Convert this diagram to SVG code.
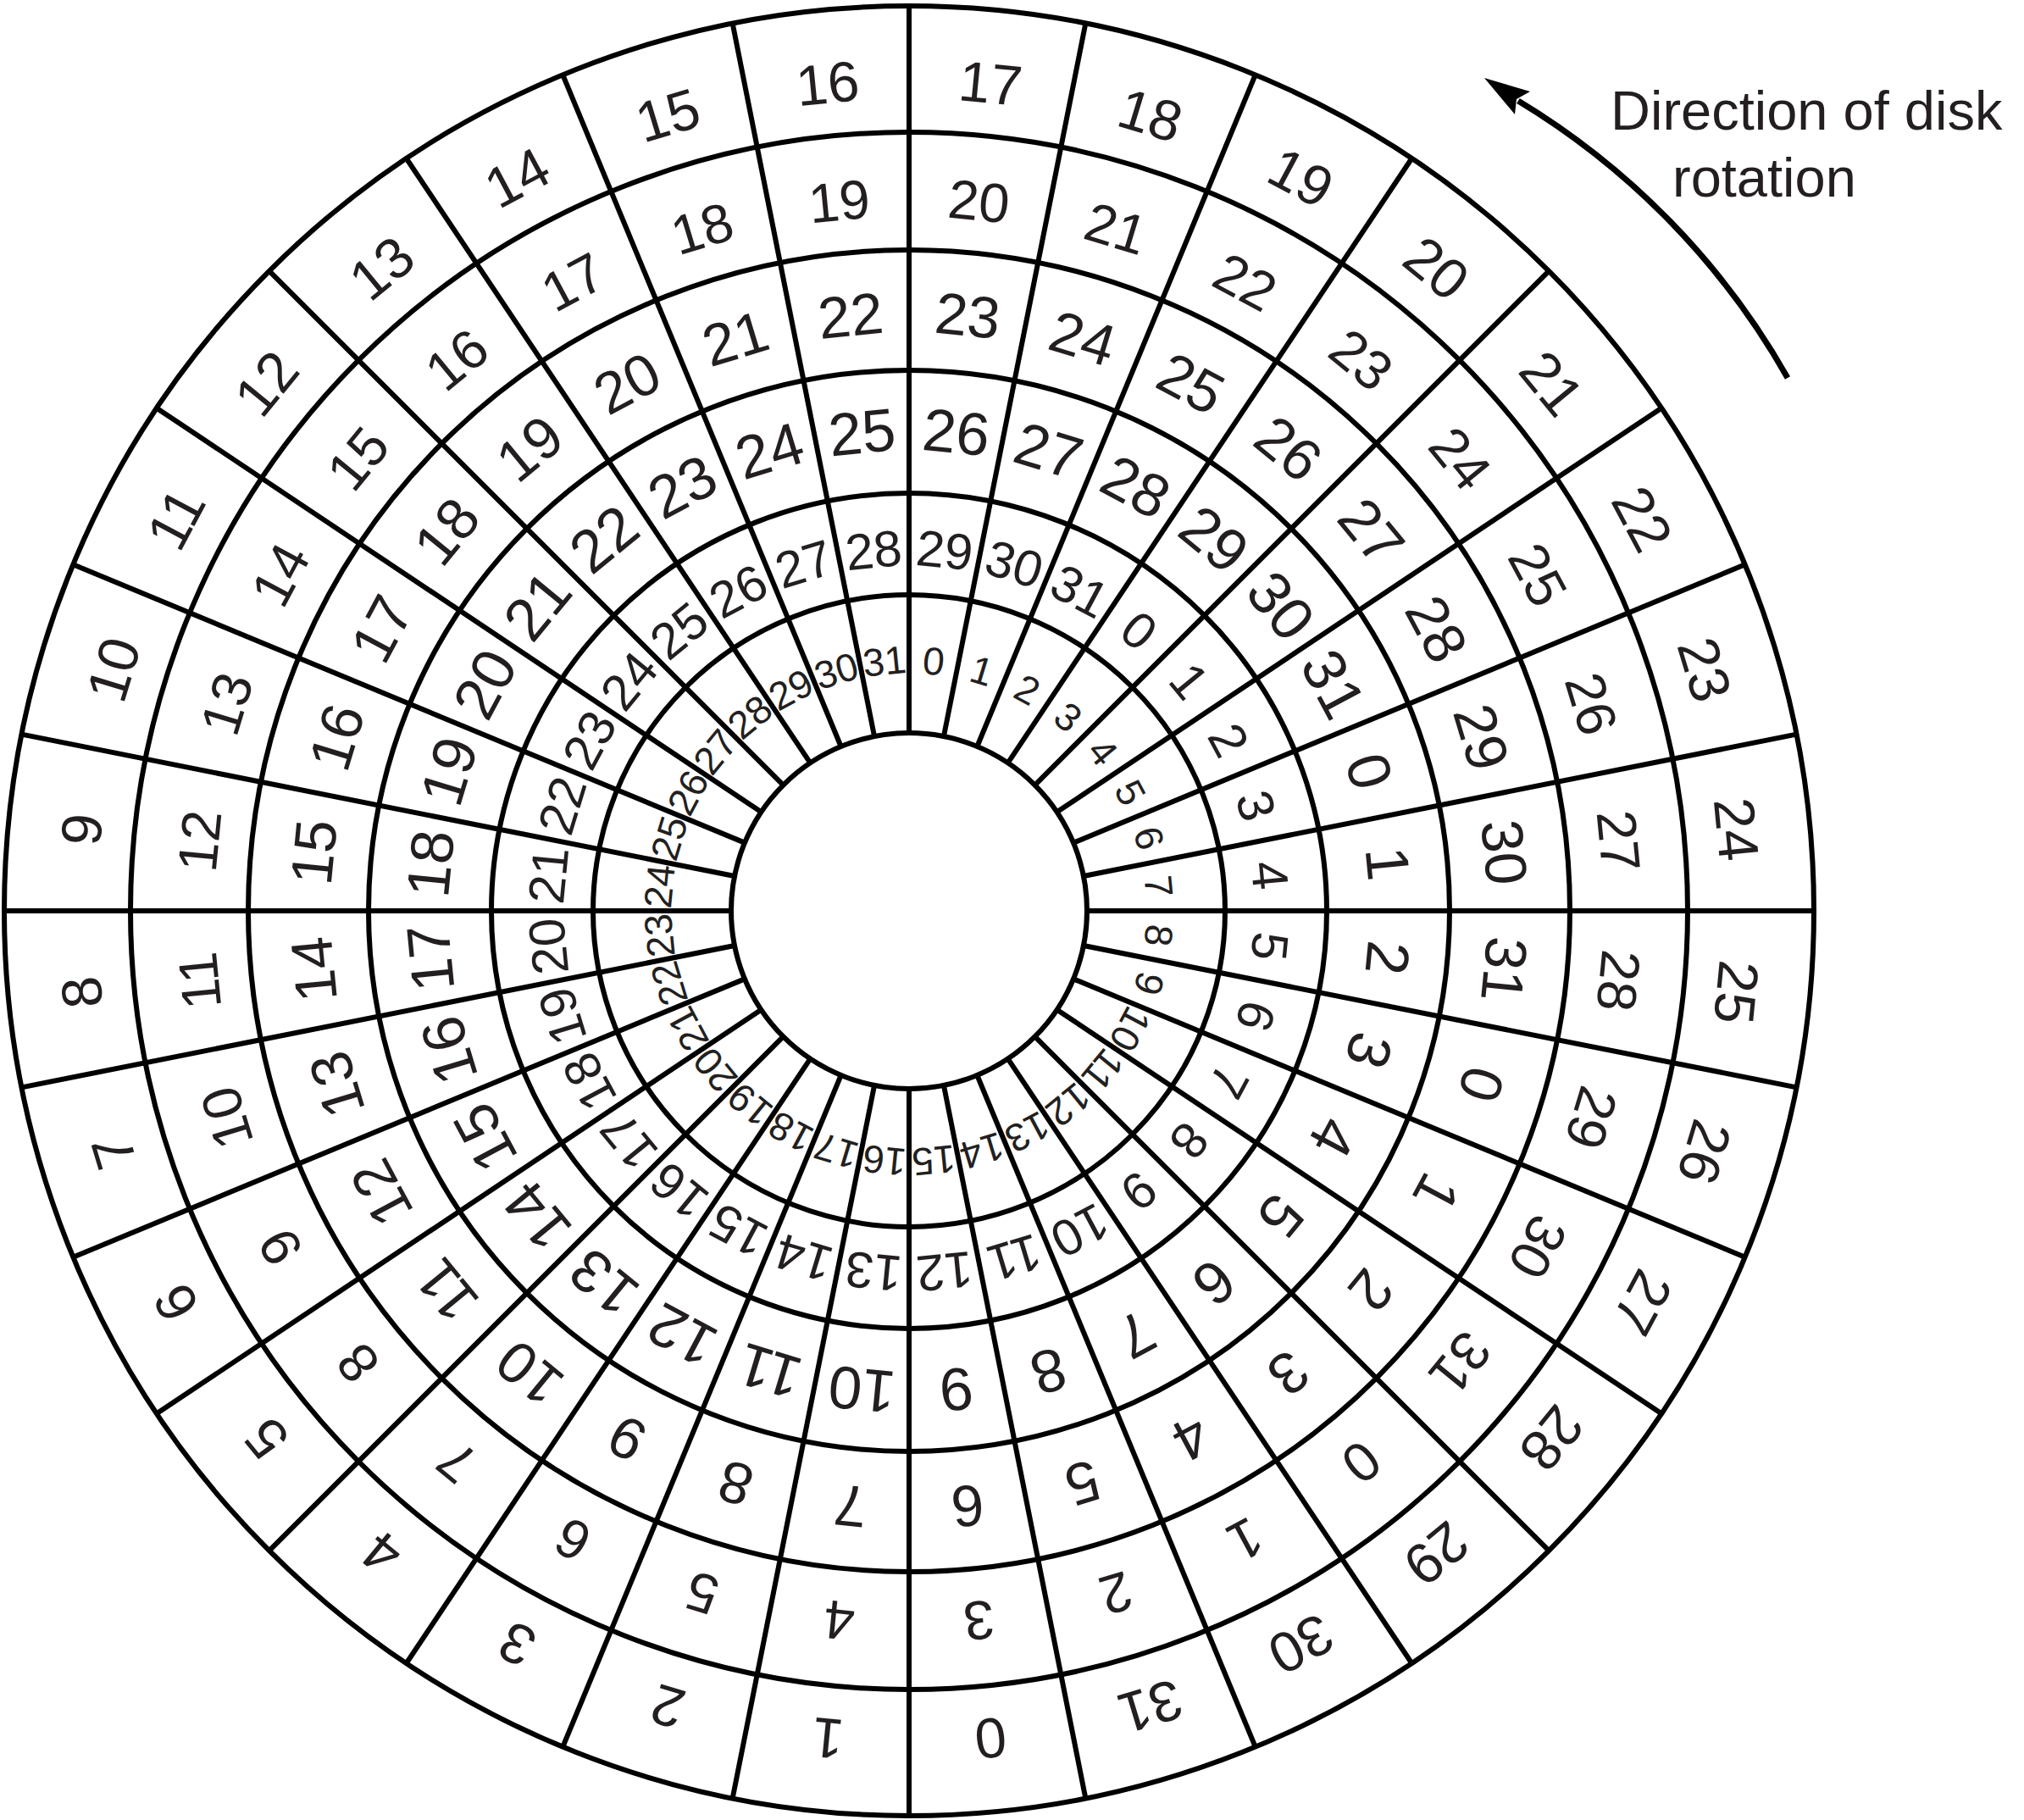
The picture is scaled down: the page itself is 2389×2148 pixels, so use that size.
<svg xmlns="http://www.w3.org/2000/svg" width="2389" height="2148" viewBox="0 0 2389 2148">
<style>
.c{fill:none;stroke:#000;stroke-width:6}
.l line{stroke:#000;stroke-width:6}
text{font-family:"Liberation Sans",Arial,Helvetica,sans-serif;fill:#231f20;text-anchor:middle}
.r0{font-size:67px}.r1{font-size:65px}.r2{font-size:69px}.r3{font-size:71px}.r4{font-size:60px}.r5{font-size:46px}
.cap{font-size:65px;text-anchor:start}
</style>
<rect width="2389" height="2148" fill="#fff"/>
<g id="tracks">
<circle class="c" cx="1073" cy="1075" r="1068"/>
<circle class="c" cx="1073" cy="1075" r="919"/>
<circle class="c" cx="1073" cy="1075" r="780"/>
<circle class="c" cx="1073" cy="1075" r="638"/>
<circle class="c" cx="1073" cy="1075" r="493"/>
<circle class="c" cx="1073" cy="1075" r="373"/>
<circle class="c" cx="1073" cy="1075" r="210"/>
</g>
<g id="sector-lines" class="l" transform="translate(1073 1075)">
<line y1="-210" y2="-1068"/>
<line y1="-210" y2="-1068" transform="rotate(11.25)"/>
<line y1="-210" y2="-1068" transform="rotate(22.5)"/>
<line y1="-210" y2="-1068" transform="rotate(33.75)"/>
<line y1="-210" y2="-1068" transform="rotate(45)"/>
<line y1="-210" y2="-1068" transform="rotate(56.25)"/>
<line y1="-210" y2="-1068" transform="rotate(67.5)"/>
<line y1="-210" y2="-1068" transform="rotate(78.75)"/>
<line y1="-210" y2="-1068" transform="rotate(90)"/>
<line y1="-210" y2="-1068" transform="rotate(101.25)"/>
<line y1="-210" y2="-1068" transform="rotate(112.5)"/>
<line y1="-210" y2="-1068" transform="rotate(123.75)"/>
<line y1="-210" y2="-1068" transform="rotate(135)"/>
<line y1="-210" y2="-1068" transform="rotate(146.25)"/>
<line y1="-210" y2="-1068" transform="rotate(157.5)"/>
<line y1="-210" y2="-1068" transform="rotate(168.75)"/>
<line y1="-210" y2="-1068" transform="rotate(180)"/>
<line y1="-210" y2="-1068" transform="rotate(191.25)"/>
<line y1="-210" y2="-1068" transform="rotate(202.5)"/>
<line y1="-210" y2="-1068" transform="rotate(213.75)"/>
<line y1="-210" y2="-1068" transform="rotate(225)"/>
<line y1="-210" y2="-1068" transform="rotate(236.25)"/>
<line y1="-210" y2="-1068" transform="rotate(247.5)"/>
<line y1="-210" y2="-1068" transform="rotate(258.75)"/>
<line y1="-210" y2="-1068" transform="rotate(270)"/>
<line y1="-210" y2="-1068" transform="rotate(281.25)"/>
<line y1="-210" y2="-1068" transform="rotate(292.5)"/>
<line y1="-210" y2="-1068" transform="rotate(303.75)"/>
<line y1="-210" y2="-1068" transform="rotate(315)"/>
<line y1="-210" y2="-1068" transform="rotate(326.25)"/>
<line y1="-210" y2="-1068" transform="rotate(337.5)"/>
<line y1="-210" y2="-1068" transform="rotate(348.75)"/>
</g>
<g id="labels">
<g id="s0" transform="translate(1073 1075) rotate(5.625)"><text class="r0" y="-958">17</text><text class="r1" y="-819">20</text><text class="r2" y="-682">23</text><text class="r3" y="-543">26</text><text class="r4" y="-407">29</text><text class="r5" y="-280">0</text></g>
<g id="s1" transform="translate(1073 1075) rotate(16.875)"><text class="r0" y="-958">18</text><text class="r1" y="-819">21</text><text class="r2" y="-682">24</text><text class="r3" y="-543">27</text><text class="r4" y="-407">30</text><text class="r5" y="-280">1</text></g>
<g id="s2" transform="translate(1073 1075) rotate(28.125)"><text class="r0" y="-958">19</text><text class="r1" y="-819">22</text><text class="r2" y="-682">25</text><text class="r3" y="-543">28</text><text class="r4" y="-407">31</text><text class="r5" y="-280">2</text></g>
<g id="s3" transform="translate(1073 1075) rotate(39.375)"><text class="r0" y="-958">20</text><text class="r1" y="-819">23</text><text class="r2" y="-682">26</text><text class="r3" y="-543">29</text><text class="r4" y="-407">0</text><text class="r5" y="-280">3</text></g>
<g id="s4" transform="translate(1073 1075) rotate(50.625)"><text class="r0" y="-958">21</text><text class="r1" y="-819">24</text><text class="r2" y="-682">27</text><text class="r3" y="-543">30</text><text class="r4" y="-407">1</text><text class="r5" y="-280">4</text></g>
<g id="s5" transform="translate(1073 1075) rotate(61.875)"><text class="r0" y="-958">22</text><text class="r1" y="-819">25</text><text class="r2" y="-682">28</text><text class="r3" y="-543">31</text><text class="r4" y="-407">2</text><text class="r5" y="-280">5</text></g>
<g id="s6" transform="translate(1073 1075) rotate(73.125)"><text class="r0" y="-958">23</text><text class="r1" y="-819">26</text><text class="r2" y="-682">29</text><text class="r3" y="-543">0</text><text class="r4" y="-407">3</text><text class="r5" y="-280">6</text></g>
<g id="s7" transform="translate(1073 1075) rotate(84.375)"><text class="r0" y="-958">24</text><text class="r1" y="-819">27</text><text class="r2" y="-682">30</text><text class="r3" y="-543">1</text><text class="r4" y="-407">4</text><text class="r5" y="-280">7</text></g>
<g id="s8" transform="translate(1073 1075) rotate(95.625)"><text class="r0" y="-958">25</text><text class="r1" y="-819">28</text><text class="r2" y="-682">31</text><text class="r3" y="-543">2</text><text class="r4" y="-407">5</text><text class="r5" y="-280">8</text></g>
<g id="s9" transform="translate(1073 1075) rotate(106.875)"><text class="r0" y="-958">26</text><text class="r1" y="-819">29</text><text class="r2" y="-682">0</text><text class="r3" y="-543">3</text><text class="r4" y="-407">6</text><text class="r5" y="-280">9</text></g>
<g id="s10" transform="translate(1073 1075) rotate(118.125)"><text class="r0" y="-958">27</text><text class="r1" y="-819">30</text><text class="r2" y="-682">1</text><text class="r3" y="-543">4</text><text class="r4" y="-407">7</text><text class="r5" y="-280">10</text></g>
<g id="s11" transform="translate(1073 1075) rotate(129.375)"><text class="r0" y="-958">28</text><text class="r1" y="-819">31</text><text class="r2" y="-682">2</text><text class="r3" y="-543">5</text><text class="r4" y="-407">8</text><text class="r5" y="-280">11</text></g>
<g id="s12" transform="translate(1073 1075) rotate(140.625)"><text class="r0" y="-958">29</text><text class="r1" y="-819">0</text><text class="r2" y="-682">3</text><text class="r3" y="-543">6</text><text class="r4" y="-407">9</text><text class="r5" y="-280">12</text></g>
<g id="s13" transform="translate(1073 1075) rotate(151.875)"><text class="r0" y="-958">30</text><text class="r1" y="-819">1</text><text class="r2" y="-682">4</text><text class="r3" y="-543">7</text><text class="r4" y="-407">10</text><text class="r5" y="-280">13</text></g>
<g id="s14" transform="translate(1073 1075) rotate(163.125)"><text class="r0" y="-958">31</text><text class="r1" y="-819">2</text><text class="r2" y="-682">5</text><text class="r3" y="-543">8</text><text class="r4" y="-407">11</text><text class="r5" y="-280">14</text></g>
<g id="s15" transform="translate(1073 1075) rotate(174.375)"><text class="r0" y="-958">0</text><text class="r1" y="-819">3</text><text class="r2" y="-682">6</text><text class="r3" y="-543">9</text><text class="r4" y="-407">12</text><text class="r5" y="-280">15</text></g>
<g id="s16" transform="translate(1073 1075) rotate(185.625)"><text class="r0" y="-958">1</text><text class="r1" y="-819">4</text><text class="r2" y="-682">7</text><text class="r3" y="-543">10</text><text class="r4" y="-407">13</text><text class="r5" y="-280">16</text></g>
<g id="s17" transform="translate(1073 1075) rotate(196.875)"><text class="r0" y="-958">2</text><text class="r1" y="-819">5</text><text class="r2" y="-682">8</text><text class="r3" y="-543">11</text><text class="r4" y="-407">14</text><text class="r5" y="-280">17</text></g>
<g id="s18" transform="translate(1073 1075) rotate(208.125)"><text class="r0" y="-958">3</text><text class="r1" y="-819">6</text><text class="r2" y="-682">9</text><text class="r3" y="-543">12</text><text class="r4" y="-407">15</text><text class="r5" y="-280">18</text></g>
<g id="s19" transform="translate(1073 1075) rotate(219.375)"><text class="r0" y="-958">4</text><text class="r1" y="-819">7</text><text class="r2" y="-682">10</text><text class="r3" y="-543">13</text><text class="r4" y="-407">16</text><text class="r5" y="-280">19</text></g>
<g id="s20" transform="translate(1073 1075) rotate(230.625)"><text class="r0" y="-958">5</text><text class="r1" y="-819">8</text><text class="r2" y="-682">11</text><text class="r3" y="-543">14</text><text class="r4" y="-407">17</text><text class="r5" y="-280">20</text></g>
<g id="s21" transform="translate(1073 1075) rotate(241.875)"><text class="r0" y="-958">6</text><text class="r1" y="-819">9</text><text class="r2" y="-682">12</text><text class="r3" y="-543">15</text><text class="r4" y="-407">18</text><text class="r5" y="-280">21</text></g>
<g id="s22" transform="translate(1073 1075) rotate(253.125)"><text class="r0" y="-958">7</text><text class="r1" y="-819">10</text><text class="r2" y="-682">13</text><text class="r3" y="-543">16</text><text class="r4" y="-407">19</text><text class="r5" y="-280">22</text></g>
<g id="s23" transform="translate(1073 1075) rotate(264.375)"><text class="r0" y="-958">8</text><text class="r1" y="-819">11</text><text class="r2" y="-682">14</text><text class="r3" y="-543">17</text><text class="r4" y="-407">20</text><text class="r5" y="-280">23</text></g>
<g id="s24" transform="translate(1073 1075) rotate(275.625)"><text class="r0" y="-958">9</text><text class="r1" y="-819">12</text><text class="r2" y="-682">15</text><text class="r3" y="-543">18</text><text class="r4" y="-407">21</text><text class="r5" y="-280">24</text></g>
<g id="s25" transform="translate(1073 1075) rotate(286.875)"><text class="r0" y="-958">10</text><text class="r1" y="-819">13</text><text class="r2" y="-682">16</text><text class="r3" y="-543">19</text><text class="r4" y="-407">22</text><text class="r5" y="-280">25</text></g>
<g id="s26" transform="translate(1073 1075) rotate(298.125)"><text class="r0" y="-958">11</text><text class="r1" y="-819">14</text><text class="r2" y="-682">17</text><text class="r3" y="-543">20</text><text class="r4" y="-407">23</text><text class="r5" y="-280">26</text></g>
<g id="s27" transform="translate(1073 1075) rotate(309.375)"><text class="r0" y="-958">12</text><text class="r1" y="-819">15</text><text class="r2" y="-682">18</text><text class="r3" y="-543">21</text><text class="r4" y="-407">24</text><text class="r5" y="-280">27</text></g>
<g id="s28" transform="translate(1073 1075) rotate(320.625)"><text class="r0" y="-958">13</text><text class="r1" y="-819">16</text><text class="r2" y="-682">19</text><text class="r3" y="-543">22</text><text class="r4" y="-407">25</text><text class="r5" y="-280">28</text></g>
<g id="s29" transform="translate(1073 1075) rotate(331.875)"><text class="r0" y="-958">14</text><text class="r1" y="-819">17</text><text class="r2" y="-682">20</text><text class="r3" y="-543">23</text><text class="r4" y="-407">26</text><text class="r5" y="-280">29</text></g>
<g id="s30" transform="translate(1073 1075) rotate(343.125)"><text class="r0" y="-958">15</text><text class="r1" y="-819">18</text><text class="r2" y="-682">21</text><text class="r3" y="-543">24</text><text class="r4" y="-407">27</text><text class="r5" y="-280">30</text></g>
<g id="s31" transform="translate(1073 1075) rotate(354.375)"><text class="r0" y="-958">16</text><text class="r1" y="-819">19</text><text class="r2" y="-682">22</text><text class="r3" y="-543">25</text><text class="r4" y="-407">28</text><text class="r5" y="-280">31</text></g>
</g>
<g id="rotation-arrow">
<path d="M 2110 446 A 900 900 0 0 0 1792 119" fill="none" stroke="#000" stroke-width="7"/>
<path d="M 1752 92 L 1806 108 L 1790 117 L 1788 135 Z" fill="#000"/>
</g>
<g id="caption">
<text class="cap" x="1901" y="153">Direction of disk</text>
<text class="cap" x="1974" y="232">rotation</text>
</g>
</svg>
